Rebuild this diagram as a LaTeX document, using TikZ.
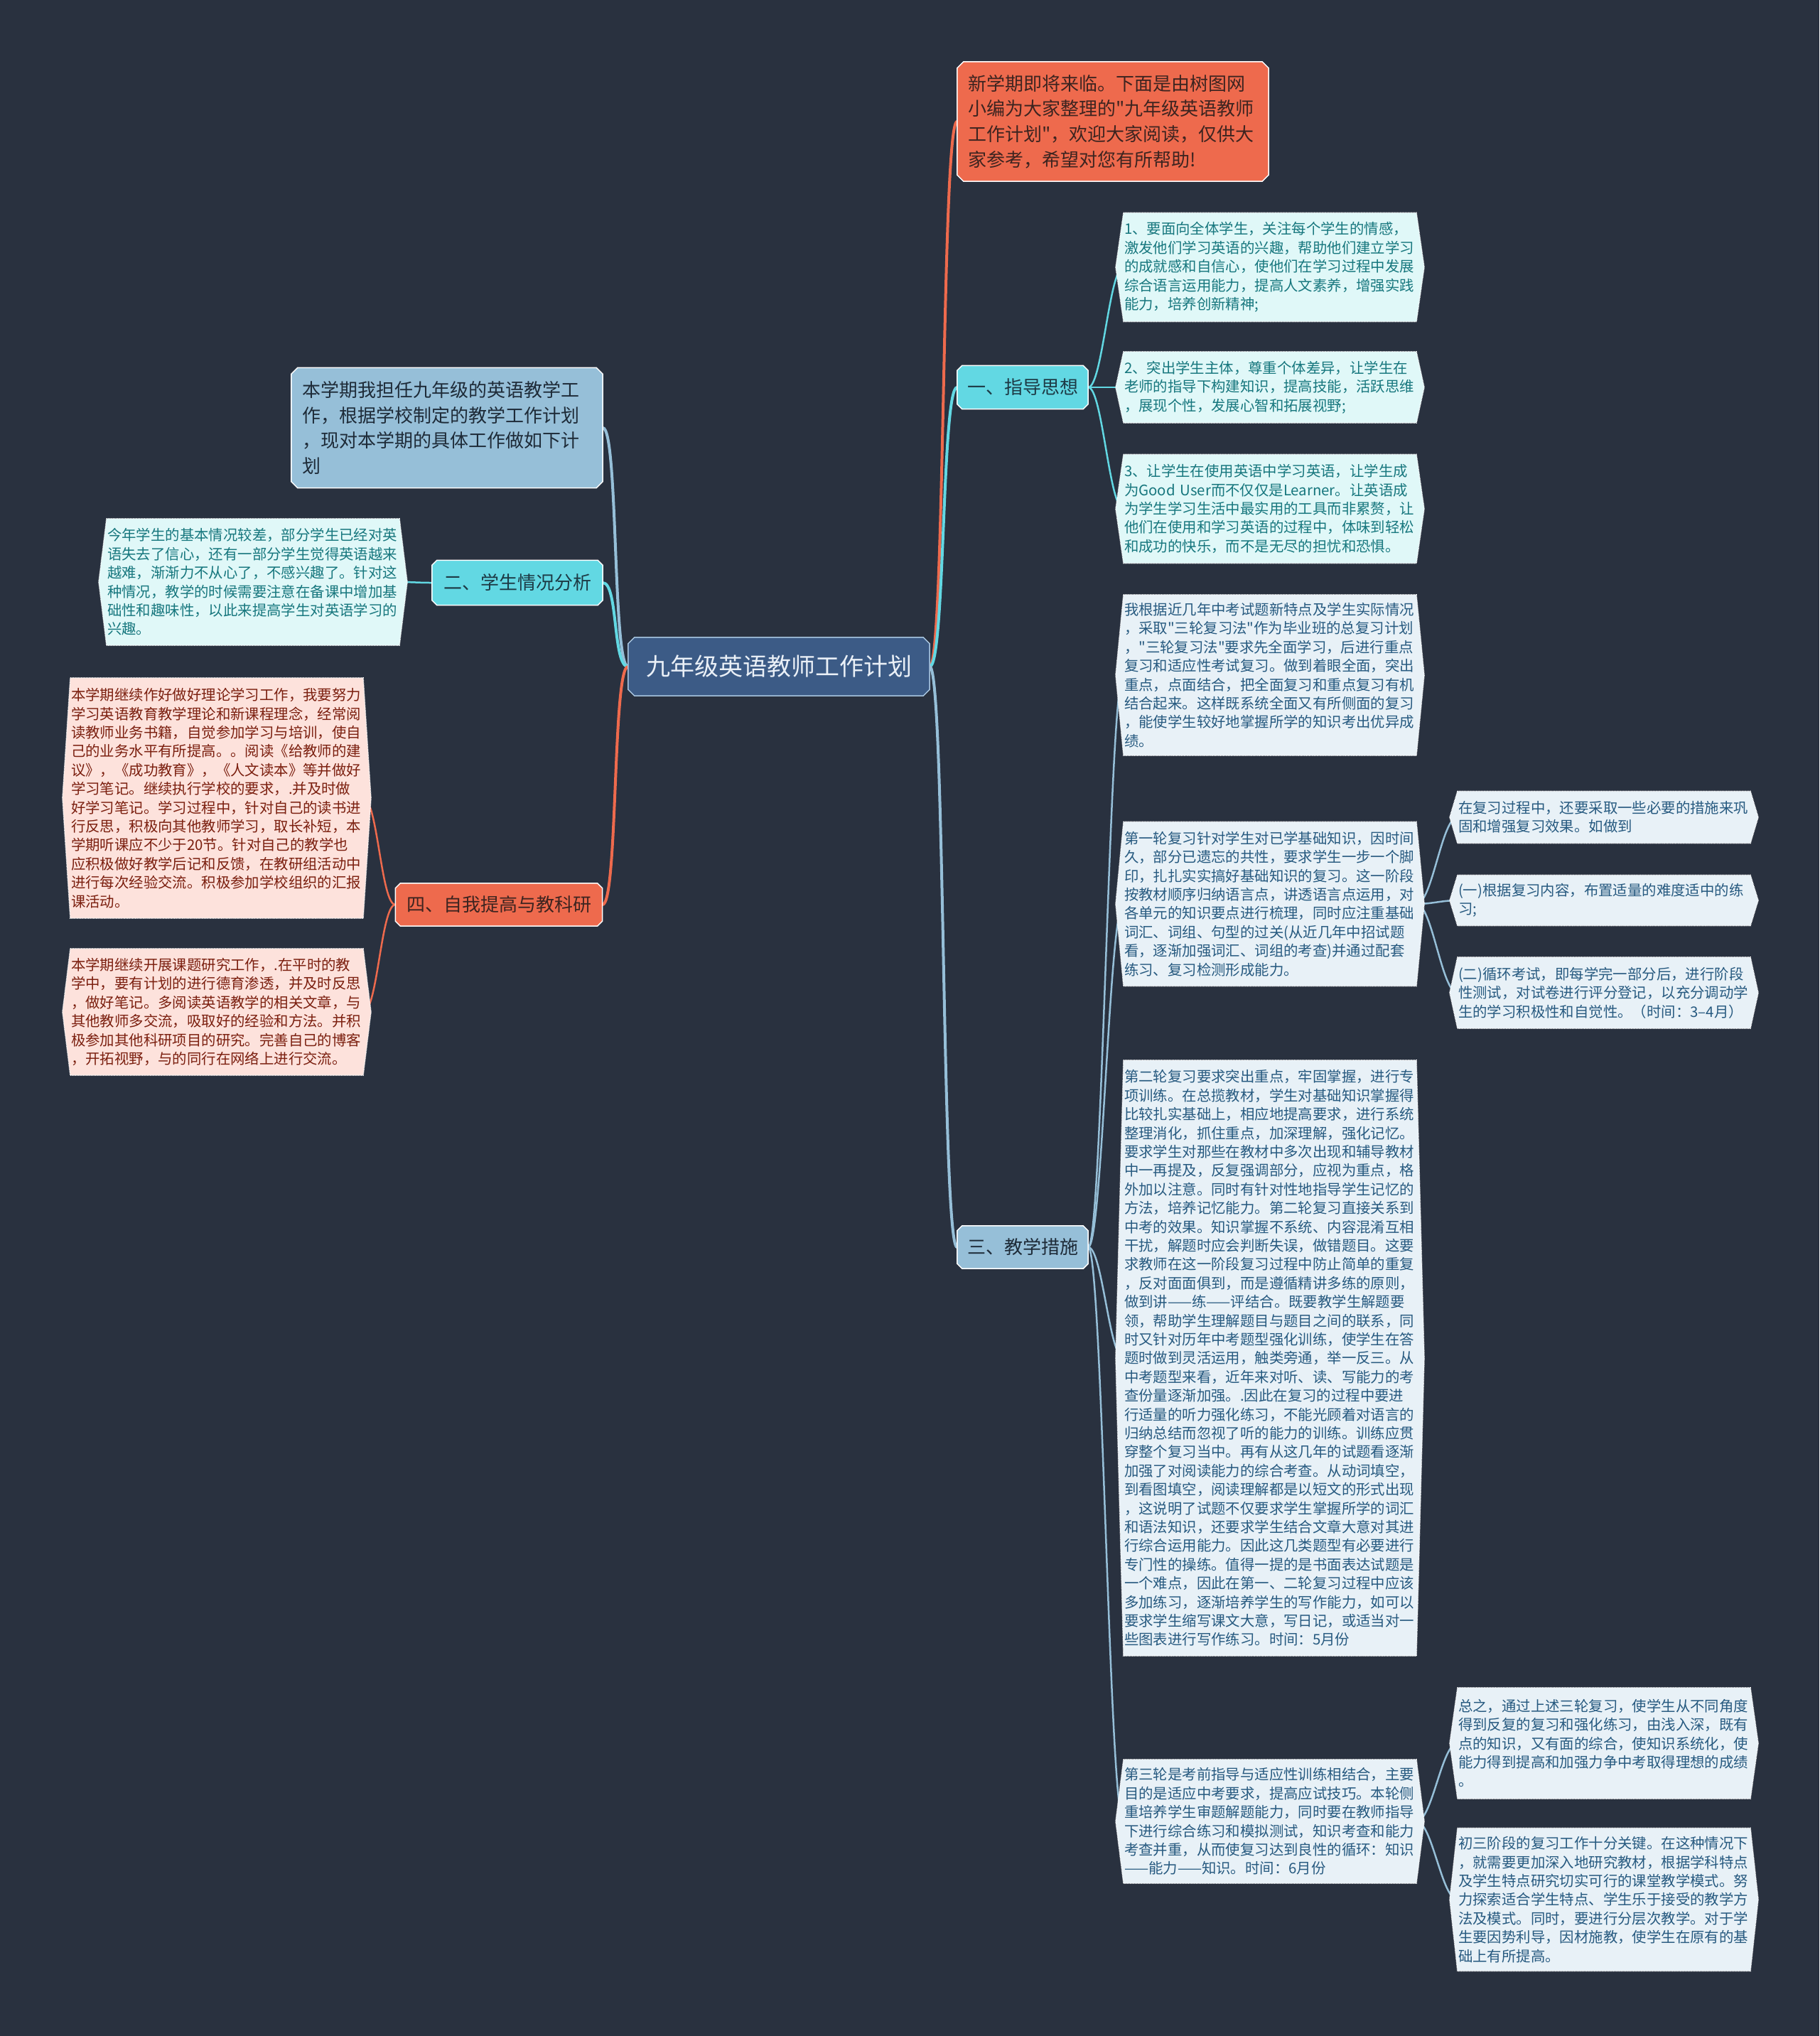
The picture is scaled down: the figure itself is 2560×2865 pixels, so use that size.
\documentclass[tikz,border=0pt]{standalone}
\usepackage{fontspec}
\setmainfont{Noto Sans CJK SC}[Ligatures=TeXOff]
\usetikzlibrary{backgrounds,calc}
\definecolor{bgc}{HTML}{29313F}
\definecolor{rootfill}{HTML}{3C5B86}
\definecolor{rootdraw}{HTML}{A9C6E0}
\definecolor{roottext}{HTML}{EAF0F7}
\definecolor{orangec}{HTML}{EE6A4D}
\definecolor{orangetext}{HTML}{3D2420}
\definecolor{cyanc}{HTML}{62D8E3}
\definecolor{cyantext}{HTML}{1D3A45}
\definecolor{bluec}{HTML}{96BFD8}
\definecolor{bluetext}{HTML}{1E2B38}
\definecolor{leafcyan}{HTML}{E0F8F8}
\definecolor{leafcyantext}{HTML}{17777E}
\definecolor{leafblue}{HTML}{E8F1F7}
\definecolor{leafbluetext}{HTML}{275A80}
\definecolor{leafpink}{HTML}{FDE2DC}
\definecolor{leafpinktext}{HTML}{7B1F0F}
\newcommand\mmOct[3]{\path[#3] ([xshift=#2]#1.north west) -- ([xshift=-#2]#1.north east) -- ([yshift=-#2]#1.north east) -- ([yshift=#2]#1.south east) -- ([xshift=-#2]#1.south east) -- ([xshift=#2]#1.south west) -- ([yshift=#2]#1.south west) -- ([yshift=-#2]#1.north west) -- cycle;}
\newcommand\mmHex[2]{\path[#2] (#1.north west) -- (#1.north east) -- ([xshift=11pt]#1.east) -- (#1.south east) -- (#1.south west) -- ([xshift=-11pt]#1.west) -- cycle;}
\begin{document}
\begin{tikzpicture}[x=1pt,y=-1pt,
  rootnode/.style={inner sep=0pt, minimum width=424pt, minimum height=82pt, text=roottext, font=\fontsize{34}{40}\selectfont},
  bignode/.style={inner xsep=15pt, inner ysep=0pt, text width=408pt, align=left, font=\fontsize{26}{35.6}\selectfont},
  secnode/.style={inner sep=0pt, align=center, font=\fontsize{26}{32}\selectfont},
  leafnode/.style={inner xsep=1pt, inner ysep=0pt, text width=410pt, align=left, font=\fontsize{20.4}{26.4}\selectfont},
  conn/.style={line width=4pt, line cap=round},
  subconn/.style={line width=2.5pt, line cap=round},
  leafshape/.style={draw=white, densely dotted, line width=1.2pt},
  mainshape/.style={draw=white, line width=1.5pt}
]
\useasboundingbox (0,0) rectangle (2560,2865);
% root
\node[rootnode] (root) at (1096,938) {九年级英语教师工作计划};
% right side
\node[bignode, minimum height=168pt, text=orangetext] (intro) at (1566,171) {新学期即将来临。下面是由树图网\\小编为大家整理的"九年级英语教师\\工作计划"，欢迎大家阅读，仅供大\\家参考，希望对您有所帮助!};
\node[secnode, minimum width=184pt, minimum height=61pt, text=cyantext] (s1) at (1439,545) {一、指导思想};
\node[secnode, minimum width=184pt, minimum height=60pt, text=bluetext] (s3) at (1439,1755) {三、教学措施};
\node[leafnode, minimum height=153pt, text=leafcyantext] (c1) at (1787,376) {1、要面向全体学生，关注每个学生的情感，\\激发他们学习英语的兴趣，帮助他们建立学习\\的成就感和自信心，使他们在学习过程中发展\\综合语言运用能力，提高人文素养，增强实践\\能力，培养创新精神;};
\node[leafnode, minimum height=100pt, text=leafcyantext] (c2) at (1787,545) {2、突出学生主体，尊重个体差异，让学生在\\老师的指导下构建知识，提高技能，活跃思维\\，展现个性，发展心智和拓展视野;};
\node[leafnode, minimum height=153pt, text=leafcyantext] (c3) at (1787,716) {3、让学生在使用英语中学习英语，让学生成\\为Good User而不仅仅是Learner。让英语成\\为学生学习生活中最实用的工具而非累赘，让\\他们在使用和学习英语的过程中，体味到轻松\\和成功的快乐，而不是无尽的担忧和恐惧。};
\node[leafnode, minimum height=226pt, text=leafbluetext] (d1) at (1787,950) {我根据近几年中考试题新特点及学生实际情况\\，采取"三轮复习法"作为毕业班的总复习计划\\，"三轮复习法"要求先全面学习，后进行重点\\复习和适应性考试复习。做到着眼全面，突出\\重点，点面结合，把全面复习和重点复习有机\\结合起来。这样既系统全面又有所侧面的复习\\，能使学生较好地掌握所学的知识考出优异成\\绩。};
\node[leafnode, minimum height=231pt, text=leafbluetext] (d2) at (1787,1272) {第一轮复习针对学生对已学基础知识，因时间\\久，部分已遗忘的共性，要求学生一步一个脚\\印，扎扎实实搞好基础知识的复习。这一阶段\\按教材顺序归纳语言点，讲透语言点运用，对\\各单元的知识要点进行梳理，同时应注重基础\\词汇、词组、句型的过关(从近几年中招试题\\看，逐渐加强词汇、词组的考查)并通过配套\\练习、复习检测形成能力。};
\node[leafnode, minimum height=73pt, text=leafbluetext] (e1) at (2257,1150) {在复习过程中，还要采取一些必要的措施来巩\\固和增强复习效果。如做到};
\node[leafnode, minimum height=71pt, text=leafbluetext] (e2) at (2257,1267) {(一)根据复习内容，布置适量的难度适中的练\\习;};
\node[leafnode, minimum height=100pt, text=leafbluetext] (e3) at (2257,1397) {(二)循环考试，即每学完一部分后，进行阶段\\性测试，对试卷进行评分登记，以充分调动学\\生的学习积极性和自觉性。（时间：3–4月）};
\node[leafnode, minimum height=838pt, text=leafbluetext] (d3) at (1787,1911) {第二轮复习要求突出重点，牢固掌握，进行专\\项训练。在总揽教材，学生对基础知识掌握得\\比较扎实基础上，相应地提高要求，进行系统\\整理消化，抓住重点，加深理解，强化记忆。\\要求学生对那些在教材中多次出现和辅导教材\\中一再提及，反复强调部分，应视为重点，格\\外加以注意。同时有针对性地指导学生记忆的\\方法，培养记忆能力。第二轮复习直接关系到\\中考的效果。知识掌握不系统、内容混淆互相\\干扰，解题时应会判断失误，做错题目。这要\\求教师在这一阶段复习过程中防止简单的重复\\，反对面面俱到，而是遵循精讲多练的原则，\\做到讲——练——评结合。既要教学生解题要\\领，帮助学生理解题目与题目之间的联系，同\\时又针对历年中考题型强化训练，使学生在答\\题时做到灵活运用，触类旁通，举一反三。从\\中考题型来看，近年来对听、读、写能力的考\\查份量逐渐加强。.因此在复习的过程中要进\\行适量的听力强化练习，不能光顾着对语言的\\归纳总结而忽视了听的能力的训练。训练应贯\\穿整个复习当中。再有从这几年的试题看逐渐\\加强了对阅读能力的综合考查。从动词填空，\\到看图填空，阅读理解都是以短文的形式出现\\，这说明了试题不仅要求学生掌握所学的词汇\\和语法知识，还要求学生结合文章大意对其进\\行综合运用能力。因此这几类题型有必要进行\\专门性的操练。值得一提的是书面表达试题是\\一个难点，因此在第一、二轮复习过程中应该\\多加练习，逐渐培养学生的写作能力，如可以\\要求学生缩写课文大意，写日记，或适当对一\\些图表进行写作练习。时间：5月份};
\node[leafnode, minimum height=174pt, text=leafbluetext] (d4) at (1787,2563) {第三轮是考前指导与适应性训练相结合，主要\\目的是适应中考要求，提高应试技巧。本轮侧\\重培养学生审题解题能力，同时要在教师指导\\下进行综合练习和模拟测试，知识考查和能力\\考查并重，从而使复习达到良性的循环：知识\\——能力——知识。时间：6月份};
\node[leafnode, minimum height=156pt, text=leafbluetext] (f1) at (2257,2453) {总之，通过上述三轮复习，使学生从不同角度\\得到反复的复习和强化练习，由浅入深，既有\\点的知识，又有面的综合，使知识系统化，使\\能力得到提高和加强力争中考取得理想的成绩\\。};
\node[leafnode, minimum height=201pt, text=leafbluetext] (f2) at (2257,2673) {初三阶段的复习工作十分关键。在这种情况下\\，就需要更加深入地研究教材，根据学科特点\\及学生特点研究切实可行的课堂教学模式。努\\力探索适合学生特点、学生乐于接受的教学方\\法及模式。同时，要进行分层次教学。对于学\\生要因势利导，因材施教，使学生在原有的基\\础上有所提高。};
% left side
\node[bignode, minimum height=169pt, text=bluetext] (intro2) at (629,602) {本学期我担任九年级的英语教学工\\作，根据学校制定的教学工作计划\\，现对本学期的具体工作做如下计\\划};
\node[secnode, minimum width=240pt, minimum height=63pt, text=cyantext] (s2) at (728,820) {二、学生情况分析};
\node[secnode, minimum width=291pt, minimum height=60pt, text=orangetext] (s4) at (702,1273) {四、自我提高与教科研};
\node[leafnode, minimum height=178pt, text=leafcyantext] (b1) at (356,819) {今年学生的基本情况较差，部分学生已经对英\\语失去了信心，还有一部分学生觉得英语越来\\越难，渐渐力不从心了，不感兴趣了。针对这\\种情况，教学的时候需要注意在备课中增加基\\础性和趣味性，以此来提高学生对英语学习的\\兴趣。};
\node[leafnode, minimum height=338pt, text=leafpinktext] (g1) at (305,1123) {本学期继续作好做好理论学习工作，我要努力\\学习英语教育教学理论和新课程理念，经常阅\\读教师业务书籍，自觉参加学习与培训，使自\\己的业务水平有所提高。。阅读《给教师的建\\议》，《成功教育》，《人文读本》等并做好\\学习笔记。继续执行学校的要求，.并及时做\\好学习笔记。学习过程中，针对自己的读书进\\行反思，积极向其他教师学习，取长补短，本\\学期听课应不少于20节。针对自己的教学也\\应积极做好教学后记和反馈，在教研组活动中\\进行每次经验交流。积极参加学校组织的汇报\\课活动。};
\node[leafnode, minimum height=178pt, text=leafpinktext] (g2) at (305,1424) {本学期继续开展课题研究工作，.在平时的教\\学中，要有计划的进行德育渗透，并及时反思\\，做好笔记。多阅读英语教学的相关文章，与\\其他教师多交流，吸取好的经验和方法。并积\\极参加其他科研项目的研究。完善自己的博客\\，开拓视野，与的同行在网络上进行交流。};
\begin{pgfonlayer}{background}
\fill[bgc] (0,0) rectangle (2560,2865);
% connectors from root
\draw[conn, orangec] (root.east) .. controls +(22,0) and +(-22,0) .. (intro.west);
\draw[conn, cyanc] (root.east) .. controls +(22,0) and +(-22,0) .. (s1.west);
\draw[conn, bluec] (root.east) .. controls +(22,0) and +(-22,0) .. (s3.west);
\draw[conn, bluec] (root.west) .. controls +(-22,0) and +(22,0) .. (intro2.east);
\draw[conn, cyanc] (root.west) .. controls +(-22,0) and +(22,0) .. (s2.east);
\draw[conn, orangec] (root.west) .. controls +(-22,0) and +(22,0) .. (s4.east);
% sub connectors
\foreach \c in {c1,c2,c3}{
  \draw[subconn, cyanc] (s1.east) .. controls +(20,0) and +(-20,0) .. (\c.west);}
\foreach \c in {d1,d2,d3,d4}{
  \draw[subconn, bluec] (s3.east) .. controls +(20,0) and +(-20,0) .. (\c.west);}
\foreach \c in {e1,e2,e3}{
  \draw[subconn, bluec] (d2.east) .. controls +(22,0) and +(-22,0) .. (\c.west);}
\foreach \c in {f1,f2}{
  \draw[subconn, bluec] (d4.east) .. controls +(22,0) and +(-22,0) .. (\c.west);}
\draw[subconn, cyanc] (s2.west) .. controls +(-20,0) and +(20,0) .. (b1.east);
\foreach \c in {g1,g2}{
  \draw[subconn, orangec] (s4.west) .. controls +(-20,0) and +(20,0) .. (\c.east);}
% shapes
\mmOct{root}{9pt}{fill=rootfill, draw=rootdraw, line width=1.5pt}
\mmOct{intro}{9pt}{fill=orangec, mainshape}
\mmOct{intro2}{9pt}{fill=bluec, mainshape}
\mmOct{s1}{7pt}{fill=cyanc, mainshape}
\mmOct{s2}{7pt}{fill=cyanc, mainshape}
\mmOct{s3}{7pt}{fill=bluec, mainshape}
\mmOct{s4}{7pt}{fill=orangec, mainshape}
\foreach \c in {c1,c2,c3,b1}{\mmHex{\c}{fill=leafcyan, leafshape}}
\foreach \c in {d1,d2,d3,d4,e1,e2,e3,f1,f2}{\mmHex{\c}{fill=leafblue, leafshape}}
\foreach \c in {g1,g2}{\mmHex{\c}{fill=leafpink, leafshape}}
\end{pgfonlayer}
\end{tikzpicture}
\end{document}
